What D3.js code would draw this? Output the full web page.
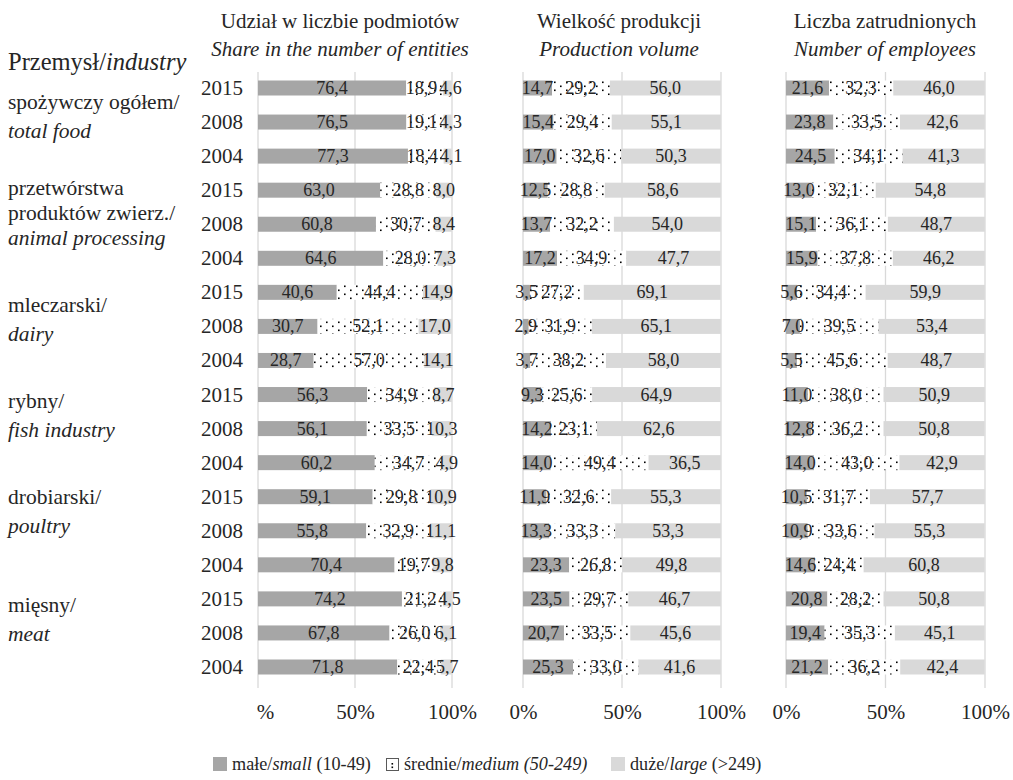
<!DOCTYPE html>
<html>
<head>
<meta charset="utf-8">
<script src="https://cdn.jsdelivr.net/npm/d3@7"></script>
<style>
  body { margin: 0; background: #fff; }
  svg text { font-family: "Liberation Serif", "DejaVu Serif", serif !important; fill: #262626; }
</style>
</head>
<body>
<div id="chart"></div>
<script>
// rows: each industry has 2015, 2008, 2004
var years = ["2015", "2008", "2004"];
var industriesPl = [["spożywczy ogółem/"], ["przetwórstwa", "produktów zwierz./"], ["mleczarski/"], ["rybny/"], ["drobiarski/"], ["mięsny/"]];
var industriesEn = ["total food", "animal processing", "dairy", "fish industry", "poultry", "meat"];

// Share in the number of entities
var entitiesSmall  = [76.4, 76.5, 77.3, 63.0, 60.8, 64.6, 40.6, 30.7, 28.7, 56.3, 56.1, 60.2, 59.1, 55.8, 70.4, 74.2, 67.8, 71.8];
var entitiesMedium = [18.9, 19.1, 18.4, 28.8, 30.7, 28.0, 44.4, 52.1, 57.0, 34.9, 33.5, 34.7, 29.8, 32.9, 19.7, 21.2, 26.0, 22.4];
var entitiesLarge  = [4.6, 4.3, 4.1, 8.0, 8.4, 7.3, 14.9, 17.0, 14.1, 8.7, 10.3, 4.9, 10.9, 11.1, 9.8, 4.5, 6.1, 5.7];

// Production volume
var productionSmall  = [14.7, 15.4, 17.0, 12.5, 13.7, 17.2, 3.5, 2.9, 3.7, 9.3, 14.2, 14.0, 11.9, 13.3, 23.3, 23.5, 20.7, 25.3];
var productionMedium = [29.2, 29.4, 32.6, 28.8, 32.2, 34.9, 27.2, 31.9, 38.2, 25.6, 23.1, 49.4, 32.6, 33.3, 26.8, 29.7, 33.5, 33.0];
var productionLarge  = [56.0, 55.1, 50.3, 58.6, 54.0, 47.7, 69.1, 65.1, 58.0, 64.9, 62.6, 36.5, 55.3, 53.3, 49.8, 46.7, 45.6, 41.6];

// Number of employees
var employeesSmall  = [21.6, 23.8, 24.5, 13.0, 15.1, 15.9, 5.6, 7.0, 5.5, 11.0, 12.8, 14.0, 10.5, 10.9, 14.6, 20.8, 19.4, 21.2];
var employeesMedium = [32.3, 33.5, 34.1, 32.1, 36.1, 37.8, 34.4, 39.5, 45.6, 38.0, 36.2, 43.0, 31.7, 33.6, 24.4, 28.2, 35.3, 36.2];
var employeesLarge  = [46.0, 42.6, 41.3, 54.8, 48.7, 46.2, 59.9, 53.4, 48.7, 50.9, 50.8, 42.9, 57.7, 55.3, 60.8, 50.8, 45.1, 42.4];

var panelTitlesPl = ["Udział w liczbie podmiotów", "Wielkość produkcji", "Liczba zatrudnionych"];
var panelTitlesEn = ["Share in the number of entities", "Production volume", "Number of employees"];
var xTicks = [0, 50, 100];

var smallColor = "#a6a6a6";
var largeColor = "#d9d9d9";
var gridColor = "#d9d9d9";
var serif = '"Liberation Serif", "DejaVu Serif", serif';

var width = 1013, height = 780;
var svg = d3.select("#chart").append("svg")
    .attr("width", width)
    .attr("height", height)
    .attr("font-family", serif);

// sparse dotted pattern for the medium segment
var defs = svg.append("defs");
var pat = defs.append("pattern")
    .attr("id", "dots")
    .attr("patternUnits", "userSpaceOnUse")
    .attr("width", 12)
    .attr("height", 8);
pat.append("rect").attr("width", 12).attr("height", 8).attr("fill", "#fff");
pat.append("rect").attr("x", 2).attr("y", 1.5).attr("width", 1.6).attr("height", 1.6).attr("fill", "#000");
pat.append("rect").attr("x", 8).attr("y", 5.5).attr("width", 1.6).attr("height", 1.6).attr("fill", "#000");

var nRows = industriesEn.length * years.length;
var y = d3.scalePoint().domain(d3.range(nRows)).range([88, 667]);
var barH = 15;

var panels = [
    { range: [258, 452], small: entitiesSmall, medium: entitiesMedium, large: entitiesLarge, center: 340 },
    { range: [523, 721], small: productionSmall, medium: productionMedium, large: productionLarge, center: 619 },
    { range: [786, 985], small: employeesSmall, medium: employeesMedium, large: employeesLarge, center: 885 }
];

var fmt = function (v) { return v.toFixed(1).replace(".", ","); };

panels.forEach(function (p, pi) {
    var x = d3.scaleLinear().domain([0, 100]).range(p.range);
    var g = svg.append("g");

    // gridlines
    g.selectAll("line.grid").data(xTicks).enter().append("line")
        .attr("x1", d => x(d)).attr("x2", d => x(d))
        .attr("y1", 72).attr("y2", 688)
        .attr("stroke", gridColor).attr("stroke-width", 1.3);

    // axis labels
    var axis = g.append("g")
        .attr("transform", "translate(0,688)")
        .call(d3.axisBottom(x).tickValues(xTicks).tickSize(0).tickPadding(16)
            .tickFormat(d => (pi === 0 && d === 0) ? "%" : d + "%"));
    axis.attr("font-family", serif);
    axis.select(".domain").remove();
    axis.selectAll("text").attr("font-size", 21).attr("fill", "#262626");
    if (pi === 0) axis.selectAll("text").filter(d => d === 0).attr("x", 7);

    // stacked segments
    var rows = d3.range(nRows).map(function (i) {
        var s = p.small[i], m = p.medium[i], l = p.large[i];
        return [
            { x0: 0, x1: s, v: s, fill: smallColor },
            { x0: s, x1: s + m, v: m, fill: "url(#dots)" },
            { x0: s + m, x1: s + m + l, v: l, fill: largeColor }
        ].map(function (d) { d.row = i; return d; });
    });
    var segs = rows.flat();

    g.selectAll("rect.seg").data(segs).enter().append("rect")
        .attr("x", d => x(d.x0))
        .attr("width", d => x(d.x1) - x(d.x0))
        .attr("y", d => y(d.row) - barH / 2)
        .attr("height", barH)
        .attr("fill", d => d.fill);

    rows.forEach(function (row) {
        var labs = row.map(function (d) {
            var t = g.append("text")
                .attr("y", y(d.row) + 6)
                .attr("text-anchor", "middle")
                .attr("font-size", 18)
                .text(fmt(d.v));
            return { node: t, cx: x((d.x0 + d.x1) / 2), w: t.node().getComputedTextLength() };
        });
        // push neighbouring labels apart when they would collide
        for (var k = 1; k < labs.length; k++) {
            var a = labs[k - 1], b = labs[k];
            var overlap = (a.cx + a.w / 2) - (b.cx - b.w / 2) + 2;
            if (overlap > 0) { a.cx -= overlap / 2; b.cx += overlap / 2; }
        }
        labs.forEach(l => l.node.attr("x", l.cx));
    });

    // titles
    svg.append("text").attr("x", p.center).attr("y", 28).attr("text-anchor", "middle")
        .attr("font-size", 21).text(panelTitlesPl[pi]);
    svg.append("text").attr("x", p.center).attr("y", 56).attr("text-anchor", "middle")
        .attr("font-size", 21).attr("font-style", "italic").text(panelTitlesEn[pi]);
});

// year labels
svg.selectAll("text.year").data(d3.range(nRows)).enter().append("text")
    .attr("x", 243).attr("y", d => y(d) + 7)
    .attr("text-anchor", "end")
    .attr("font-size", 21)
    .text(d => years[d % 3]);

// left header
var head = svg.append("text").attr("x", 8).attr("y", 70).attr("font-size", 24.5);
head.append("tspan").text("Przemysł/");
head.append("tspan").attr("font-style", "italic").text("industry");

// industry labels
var catTop = [109, 195, 312, 408, 504, 612];
industriesPl.forEach(function (lines, i) {
    var t = svg.append("text").attr("x", 8).attr("y", catTop[i]).attr("font-size", 21.5);
    lines.forEach(function (ln, j) {
        t.append("tspan").attr("x", 8).attr("dy", j === 0 ? 0 : 25).text(ln);
    });
    t.append("tspan").attr("x", 8).attr("dy", lines.length > 1 ? 25 : 29)
        .attr("font-style", "italic").text(industriesEn[i]);
});

// legend
var legend = svg.append("g").attr("transform", "translate(0,770)");
legend.append("rect").attr("x", 213).attr("y", -13).attr("width", 14).attr("height", 14).attr("fill", smallColor);
var l1 = legend.append("text").attr("x", 232).attr("y", 0).attr("font-size", 18.2);
l1.append("tspan").text("małe/");
l1.append("tspan").attr("font-style", "italic").text("small");
l1.append("tspan").text(" (10-49)");

legend.append("rect").attr("x", 386.5).attr("y", -11.5).attr("width", 12).attr("height", 12)
    .attr("fill", "#fff").attr("stroke", "#595959").attr("stroke-width", 1);
legend.append("rect").attr("x", 391.5).attr("y", -7).attr("width", 1.6).attr("height", 1.6).attr("fill", "#000");
legend.append("rect").attr("x", 391.5).attr("y", -3.5).attr("width", 1.6).attr("height", 1.6).attr("fill", "#000");
var l2 = legend.append("text").attr("x", 404).attr("y", 0).attr("font-size", 18.2);
l2.append("tspan").text("średnie/");
l2.append("tspan").attr("font-style", "italic").text("medium (50-249)");

legend.append("rect").attr("x", 611).attr("y", -13).attr("width", 14).attr("height", 14).attr("fill", largeColor);
var l3 = legend.append("text").attr("x", 630).attr("y", 0).attr("font-size", 18.2);
l3.append("tspan").text("duże/");
l3.append("tspan").attr("font-style", "italic").text("large");
l3.append("tspan").text(" (>249)");
</script>
</body>
</html>
